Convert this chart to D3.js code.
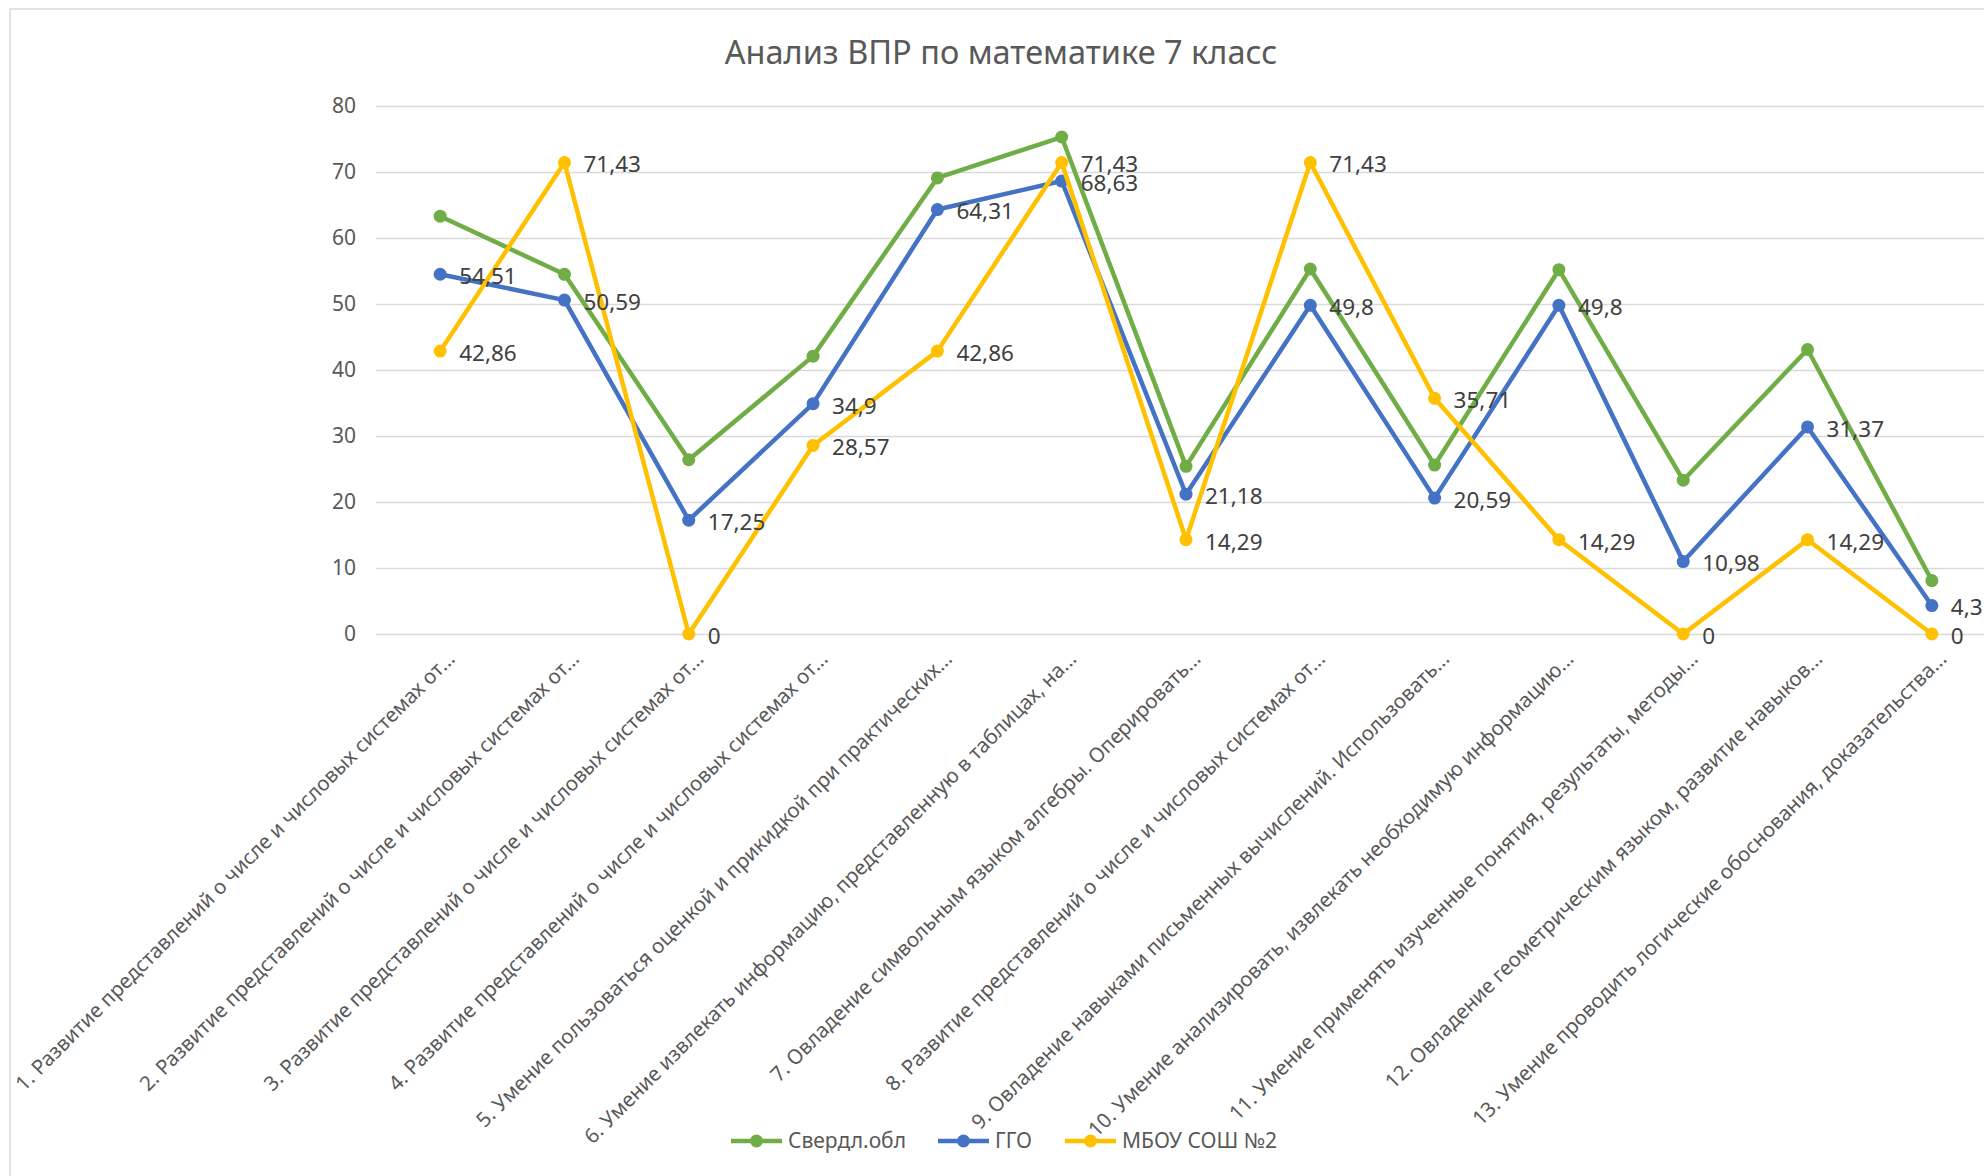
<!DOCTYPE html>
<html><head><meta charset="utf-8">
<script src="https://cdn.jsdelivr.net/npm/d3@7"></script>
<style>body{margin:0;background:#fff;} svg{display:block;}</style>
</head><body>
<svg id="chart" width="1984" height="1176"></svg>
<script>
const title = "Анализ ВПР по математике 7 класс";
const categories = [
 "1. Развитие представлений о числе и числовых системах от...",
 "2. Развитие представлений о числе и числовых системах от...",
 "3. Развитие представлений о числе и числовых системах от...",
 "4. Развитие представлений о числе и числовых системах от...",
 "5. Умение пользоваться оценкой и прикидкой при практических...",
 "6. Умение извлекать информацию, представленную в таблицах, на...",
 "7. Овладение символьным языком алгебры. Оперировать...",
 "8. Развитие представлений о числе и числовых системах от...",
 "9. Овладение навыками письменных вычислений. Использовать...",
 "10. Умение анализировать, извлекать необходимую информацию...",
 "11. Умение применять изученные понятия, результаты, методы...",
 "12. Овладение геометрическим языком, развитие навыков...",
 "13. Умение проводить логические обоснования, доказательства..."
];
const seriesNames = ["Свердл.обл", "ГГО", "МБОУ СОШ №2"];
const sverdl = [63.3, 54.5, 26.4, 42.1, 69.1, 75.3, 25.4, 55.3, 25.6, 55.2, 23.3, 43.1, 8.1];
const ggo = [54.51, 50.59, 17.25, 34.9, 64.31, 68.63, 21.18, 49.8, 20.59, 49.8, 10.98, 31.37, 4.31];
const mbou = [42.86, 71.43, 0, 28.57, 42.86, 71.43, 14.29, 71.43, 35.71, 14.29, 0, 14.29, 0];
const yTicks = [0, 10, 20, 30, 40, 50, 60, 70, 80];
const colors = ["#70AD47", "#4472C4", "#FFC000"];

const svg = d3.select("#chart");
const font = "'Noto Sans', 'Open Sans', sans-serif";
const textCol = "#595959";

// chart border
svg.append("rect").attr("x", 10).attr("y", 9).attr("width", 2000).attr("height", 1200)
  .attr("fill", "none").attr("stroke", "#d9d9d9").attr("stroke-width", 1.5);

const x = d3.scaleBand().domain(categories).range([378, 1994]).padding(0);
const cx = c => x(c) + x.bandwidth() / 2;
const y = d3.scaleLinear().domain([0, 80]).range([634, 106]);

// title
svg.append("text").attr("x", 1001).attr("y", 64).attr("text-anchor", "middle")
  .attr("font-family", font).attr("font-size", 32.5).attr("fill", textCol).text(title);

// gridlines
const yAxis = d3.axisLeft(y).tickValues(yTicks).tickSize(-(1990 - 376)).tickFormat(d3.format("d")).tickPadding(20);
const gy = svg.append("g").attr("transform", "translate(376,0)").call(yAxis);
gy.select(".domain").remove();
gy.selectAll(".tick line").attr("stroke", "#d9d9d9").attr("stroke-width", 1.5);
gy.selectAll(".tick text").attr("font-family", font).attr("font-size", 21).attr("fill", textCol);

// category labels
const xAxis = d3.axisBottom(x).tickSize(0).tickPadding(0);
const gx = svg.append("g").attr("transform", "translate(0,634)").call(xAxis);
gx.select(".domain").remove();
gx.selectAll(".tick text")
  .attr("font-family", font).attr("font-size", 20.5).attr("fill", textCol)
  .attr("text-anchor", "end").attr("dy", 0)
  .attr("transform", "translate(16,26) rotate(-45)");

// series
const allSeries = [sverdl, ggo, mbou];
const line = d3.line().x((d, i) => cx(categories[i])).y(d => y(d));
allSeries.forEach((vals, si) => {
  const g = svg.append("g");
  g.append("path").datum(vals).attr("d", line).attr("fill", "none")
    .attr("stroke", colors[si]).attr("stroke-width", 4.5).attr("stroke-linejoin", "round");
  g.selectAll("circle").data(vals).join("circle")
    .attr("cx", (d, i) => cx(categories[i])).attr("cy", d => y(d)).attr("r", 6.5)
    .attr("fill", colors[si]);
});
// data labels for ГГО and МБОУ
[ggo, mbou].forEach((vals) => {
  svg.append("g").selectAll("text").data(vals).join("text")
    .attr("x", (d, i) => cx(categories[i]) + 19).attr("y", d => y(d) + 2)
    .attr("dy", "0.35em")
    .attr("font-family", font).attr("font-size", 22.5).attr("fill", "#404040")
    .text(d => String(d).replace(".", ","));
});

// legend
const legX = [731, 938, 1065];
seriesNames.forEach((n, i) => {
  const g = svg.append("g").attr("transform", `translate(${legX[i]},1141)`);
  g.append("line").attr("x1", 0).attr("x2", 51).attr("y1", 0).attr("y2", 0)
    .attr("stroke", colors[i]).attr("stroke-width", 4.5);
  g.append("circle").attr("cx", 25.5).attr("cy", 0).attr("r", 6.5).attr("fill", colors[i]);
  g.append("text").attr("x", 57).attr("y", 0).attr("dy", "0.35em")
    .attr("font-family", font).attr("font-size", 21).attr("fill", textCol).text(n);
});
</script>
</body></html>
